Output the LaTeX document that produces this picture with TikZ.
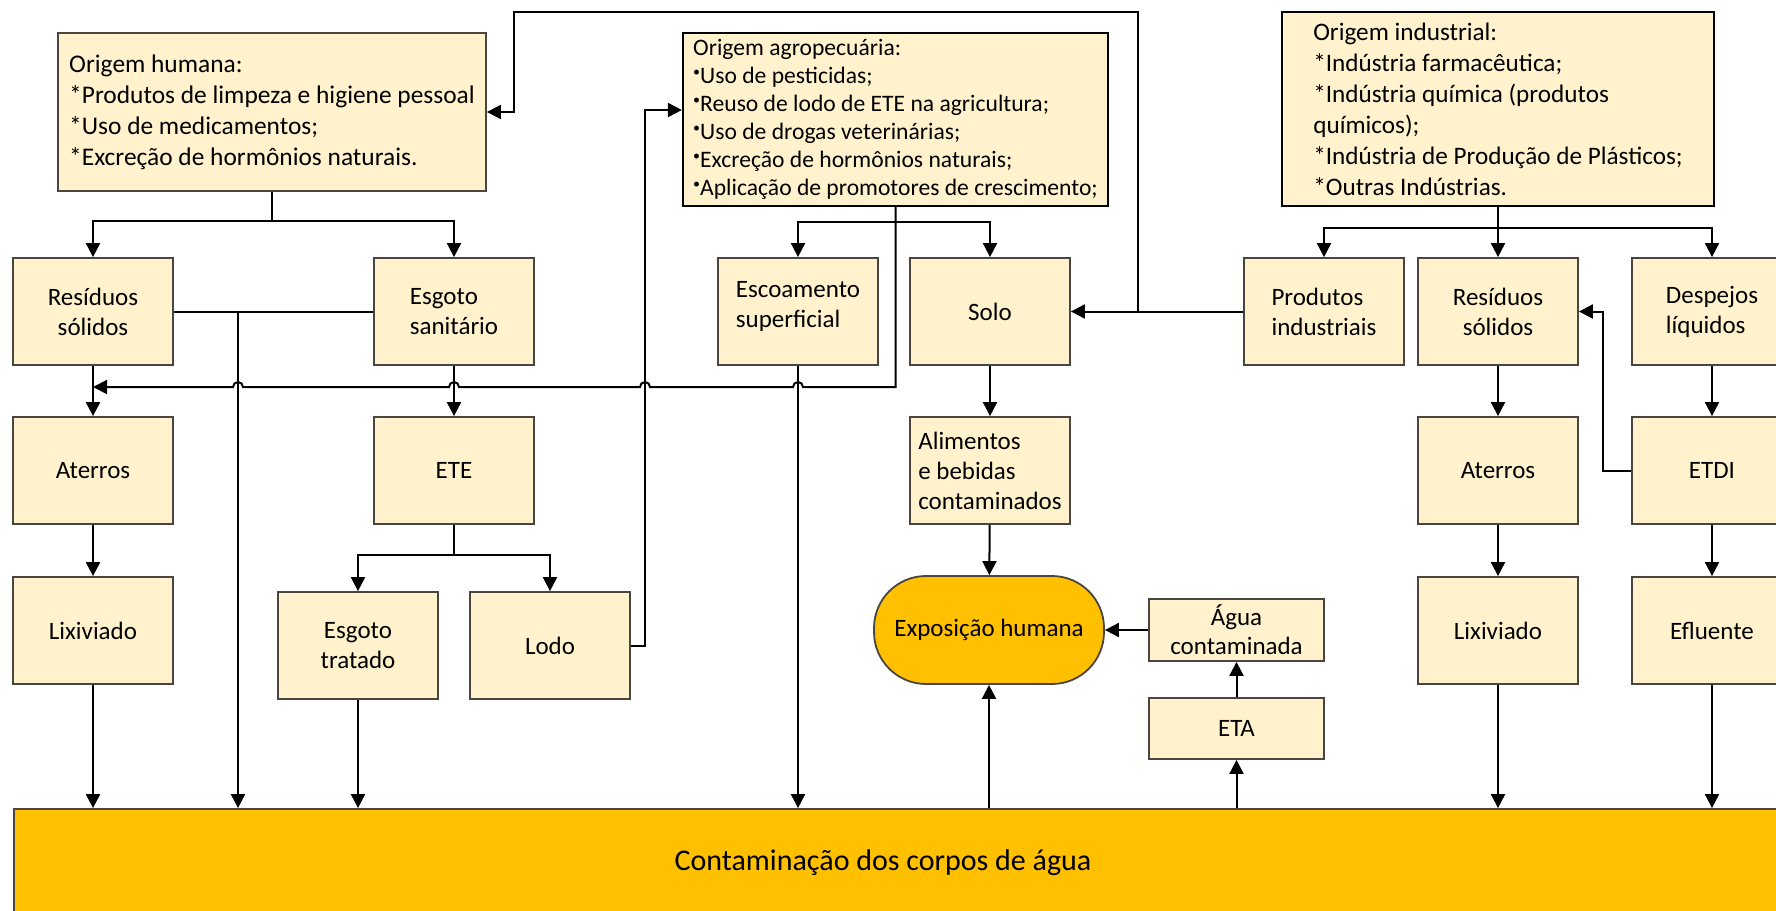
\documentclass[tikz,border=0pt]{standalone}
\usepackage{fontspec}
\setmainfont{Carlito}
\usetikzlibrary{arrows.meta}
\definecolor{creme}{HTML}{FFF2CC}
\definecolor{borda}{HTML}{4A4540}
\definecolor{laranja}{HTML}{FFC000}
\newcommand{\pontoagro}{\raisebox{0.6ex}{\fontsize{7}{7}\selectfont •}}

\begin{document}
\begin{tikzpicture}[x=0.5pt,y=-0.5pt,
  caixa/.style={draw=borda,line width=0.9pt,fill=creme,minimum width=80pt,minimum height=53.5pt,
    inner sep=2pt,align=center,font=\fontsize{12.5}{15}\selectfont},
  origem/.style={draw=borda,line width=0.9pt,fill=creme,align=left,inner sep=2pt,
    font=\fontsize{12.7}{15.5}\selectfont},
  expo/.style={draw=borda,line width=0.9pt,fill=laranja,rounded corners=26pt,
    minimum width=115pt,minimum height=54pt,font=\fontsize{12.5}{15}\selectfont},
  seta/.style={line width=1pt,-{Triangle[width=7pt,length=7pt]}},
  linha/.style={line width=1pt}]
  \path[fill=white,use as bounding box] (0,0) rectangle (1776,910);

  \node[origem,minimum width=214pt,minimum height=79pt] (humana) at (272,112)
    {Origem humana:\\{}*Produtos de limpeza e higiene pessoal\\{}*Uso de medicamentos;\\{}*Excreção de hormônios naturais.};
  \node[origem,draw=black,line width=1.1pt,minimum width=212.5pt,minimum height=86.5pt,
    font=\fontsize{11.8}{14}\selectfont] (agro) at (895.5,119.5)
    {Origem agropecuária:\\\pontoagro Uso de pesticidas;\\\pontoagro Reuso de lodo de ETE na agricultura;\\
     \pontoagro Uso de drogas veterinárias;\\\pontoagro Excreção de hormônios naturais;\\
     \pontoagro Aplicação de promotores de crescimento;};
  \node[origem,draw=black,line width=1.2pt,minimum width=216pt,minimum height=97pt,
    font=\fontsize{12.6}{15.5}\selectfont] (ind) at (1498,109)
    {Origem industrial:\\{}*Indústria farmacêutica;\\{}*Indústria química (produtos\\químicos);\\
     {}*Indústria de Produção de Plásticos;\\{}*Outras Indústrias.};

  \node[caixa] (resL) at (93,311.5) {Resíduos\\sólidos};
  \node[caixa,align=left] (esgS) at (454,311.5) {Esgoto\\sanitário};
  \node[caixa,align=left] (escoa) at (798,311.5) {Escoamento\\superficial\\[-8pt]\mbox{}};
  \node[caixa] (solo) at (990,311.5) {Solo};
  \node[caixa,align=left] (prod) at (1324,311.5) {Produtos\\industriais};
  \node[caixa] (resR) at (1498,311.5) {Resíduos\\sólidos};
  \node[caixa,align=left] (desp) at (1712,311.5) {Despejos\\líquidos};

  \node[caixa] (aterL) at (93,470.5) {Aterros};
  \node[caixa] (ete) at (454,470.5) {ETE};
  \node[caixa,align=left] (alim) at (990,470.5) {Alimentos\\e bebidas\\contaminados};
  \node[caixa] (aterR) at (1498,470.5) {Aterros};
  \node[caixa] (etdi) at (1712,470.5) {ETDI};

  \node[caixa] (lixL) at (93,630.5) {Lixiviado};
  \node[caixa] (esgT) at (358,645.5) {Esgoto\\tratado};
  \node[caixa] (lodo) at (550,645.5) {Lodo};
  \node[expo] (expH) at (989,630) {Exposição humana};
  \node[caixa,minimum width=87.5pt,minimum height=31pt,inner sep=1pt,
    font=\fontsize{12.5}{14.5}\selectfont] (agua) at (1236.5,630) {Água\\contaminada};
  \node[caixa,minimum width=87.5pt,minimum height=30.5pt] (eta) at (1236.5,728.5) {ETA};
  \node[caixa] (lixR) at (1498,630.5) {Lixiviado};
  \node[caixa] (eflu) at (1712,630.5) {Efluente};

  \node[draw=borda,line width=0.9pt,fill=laranja,minimum width=888pt,minimum height=54pt,
    font=\fontsize{15}{18}\selectfont] (agua0) at (902,863) {Contaminação dos corpos de água\hspace*{19pt}};

  \coordinate (hJ) at (272,221);
  \coordinate (sJ) at (238,311.5);
  \coordinate (eJ) at (454,555);
  \coordinate (aJ) at (895.5,222);
  \coordinate (iJ) at (1498,228);
  \coordinate (lodoUp) at (645,110);
  \coordinate (pJ) at (1138,311.5);
  \coordinate (topR) at (1138,12);
  \coordinate (topL) at (514,12);
  \coordinate (etJ) at (1603,311.5);
  \coordinate (retL) at (93,387);

  \draw[linha] (humana) -- (hJ);
  \draw[seta] (hJ) -| (resL);
  \draw[seta] (hJ) -| (esgS);
  \draw[linha] (resL) -- (esgS);
  \draw[seta] (sJ) -- (sJ |- agua0.north);
  \draw[seta] (resL) -- (aterL);
  \draw[seta] (aterL) -- (lixL);
  \draw[seta] (lixL) -- (lixL |- agua0.north);
  \draw[seta] (esgS) -- (ete);
  \draw[linha] (ete) -- (eJ);
  \draw[seta] (eJ) -| (esgT);
  \draw[seta] (eJ) -| (lodo);
  \draw[seta] (esgT) -- (esgT |- agua0.north);
  \draw[seta] (lodo) -| (lodoUp) -- (lodoUp -| agro.west);

  \draw[seta] (agro.south -| aJ) -- (895.5,387) -- (803,387)
    arc[start angle=0,end angle=180,radius=2.5pt] -- (650,387)
    arc[start angle=0,end angle=180,radius=2.5pt] -- (459,387)
    arc[start angle=0,end angle=180,radius=2.5pt] -- (243,387)
    arc[start angle=0,end angle=180,radius=2.5pt] -- (retL);
  \draw[seta] (aJ) -| (escoa);
  \draw[seta] (aJ) -| (solo);
  \draw[seta] (escoa) -- (escoa |- agua0.north);
  \draw[seta] (solo) -- (alim);
  \draw[seta] (alim) -- (expH);
  \draw[seta] (agua0.north -| expH) -- (expH);

  \draw[seta] (prod) -- (solo);
  \draw[seta] (pJ) -- (topR) -- (topL) |- (humana);

  \draw[linha] (ind) -- (iJ);
  \draw[seta] (iJ) -| (prod);
  \draw[seta] (iJ) -- (resR);
  \draw[seta] (iJ) -| (desp);
  \draw[seta] (resR) -- (aterR);
  \draw[seta] (aterR) -- (lixR);
  \draw[seta] (lixR) -- (lixR |- agua0.north);
  \draw[seta] (desp) -- (etdi);
  \draw[seta] (etdi) -- (eflu);
  \draw[seta] (eflu) -- (eflu |- agua0.north);
  \draw[seta] (etdi) -| (etJ) -- (resR);

  \draw[seta] (agua0.north -| eta) -- (eta);
  \draw[seta] (eta) -- (agua);
  \draw[seta] (agua) -- (expH);
\end{tikzpicture}
\end{document}
